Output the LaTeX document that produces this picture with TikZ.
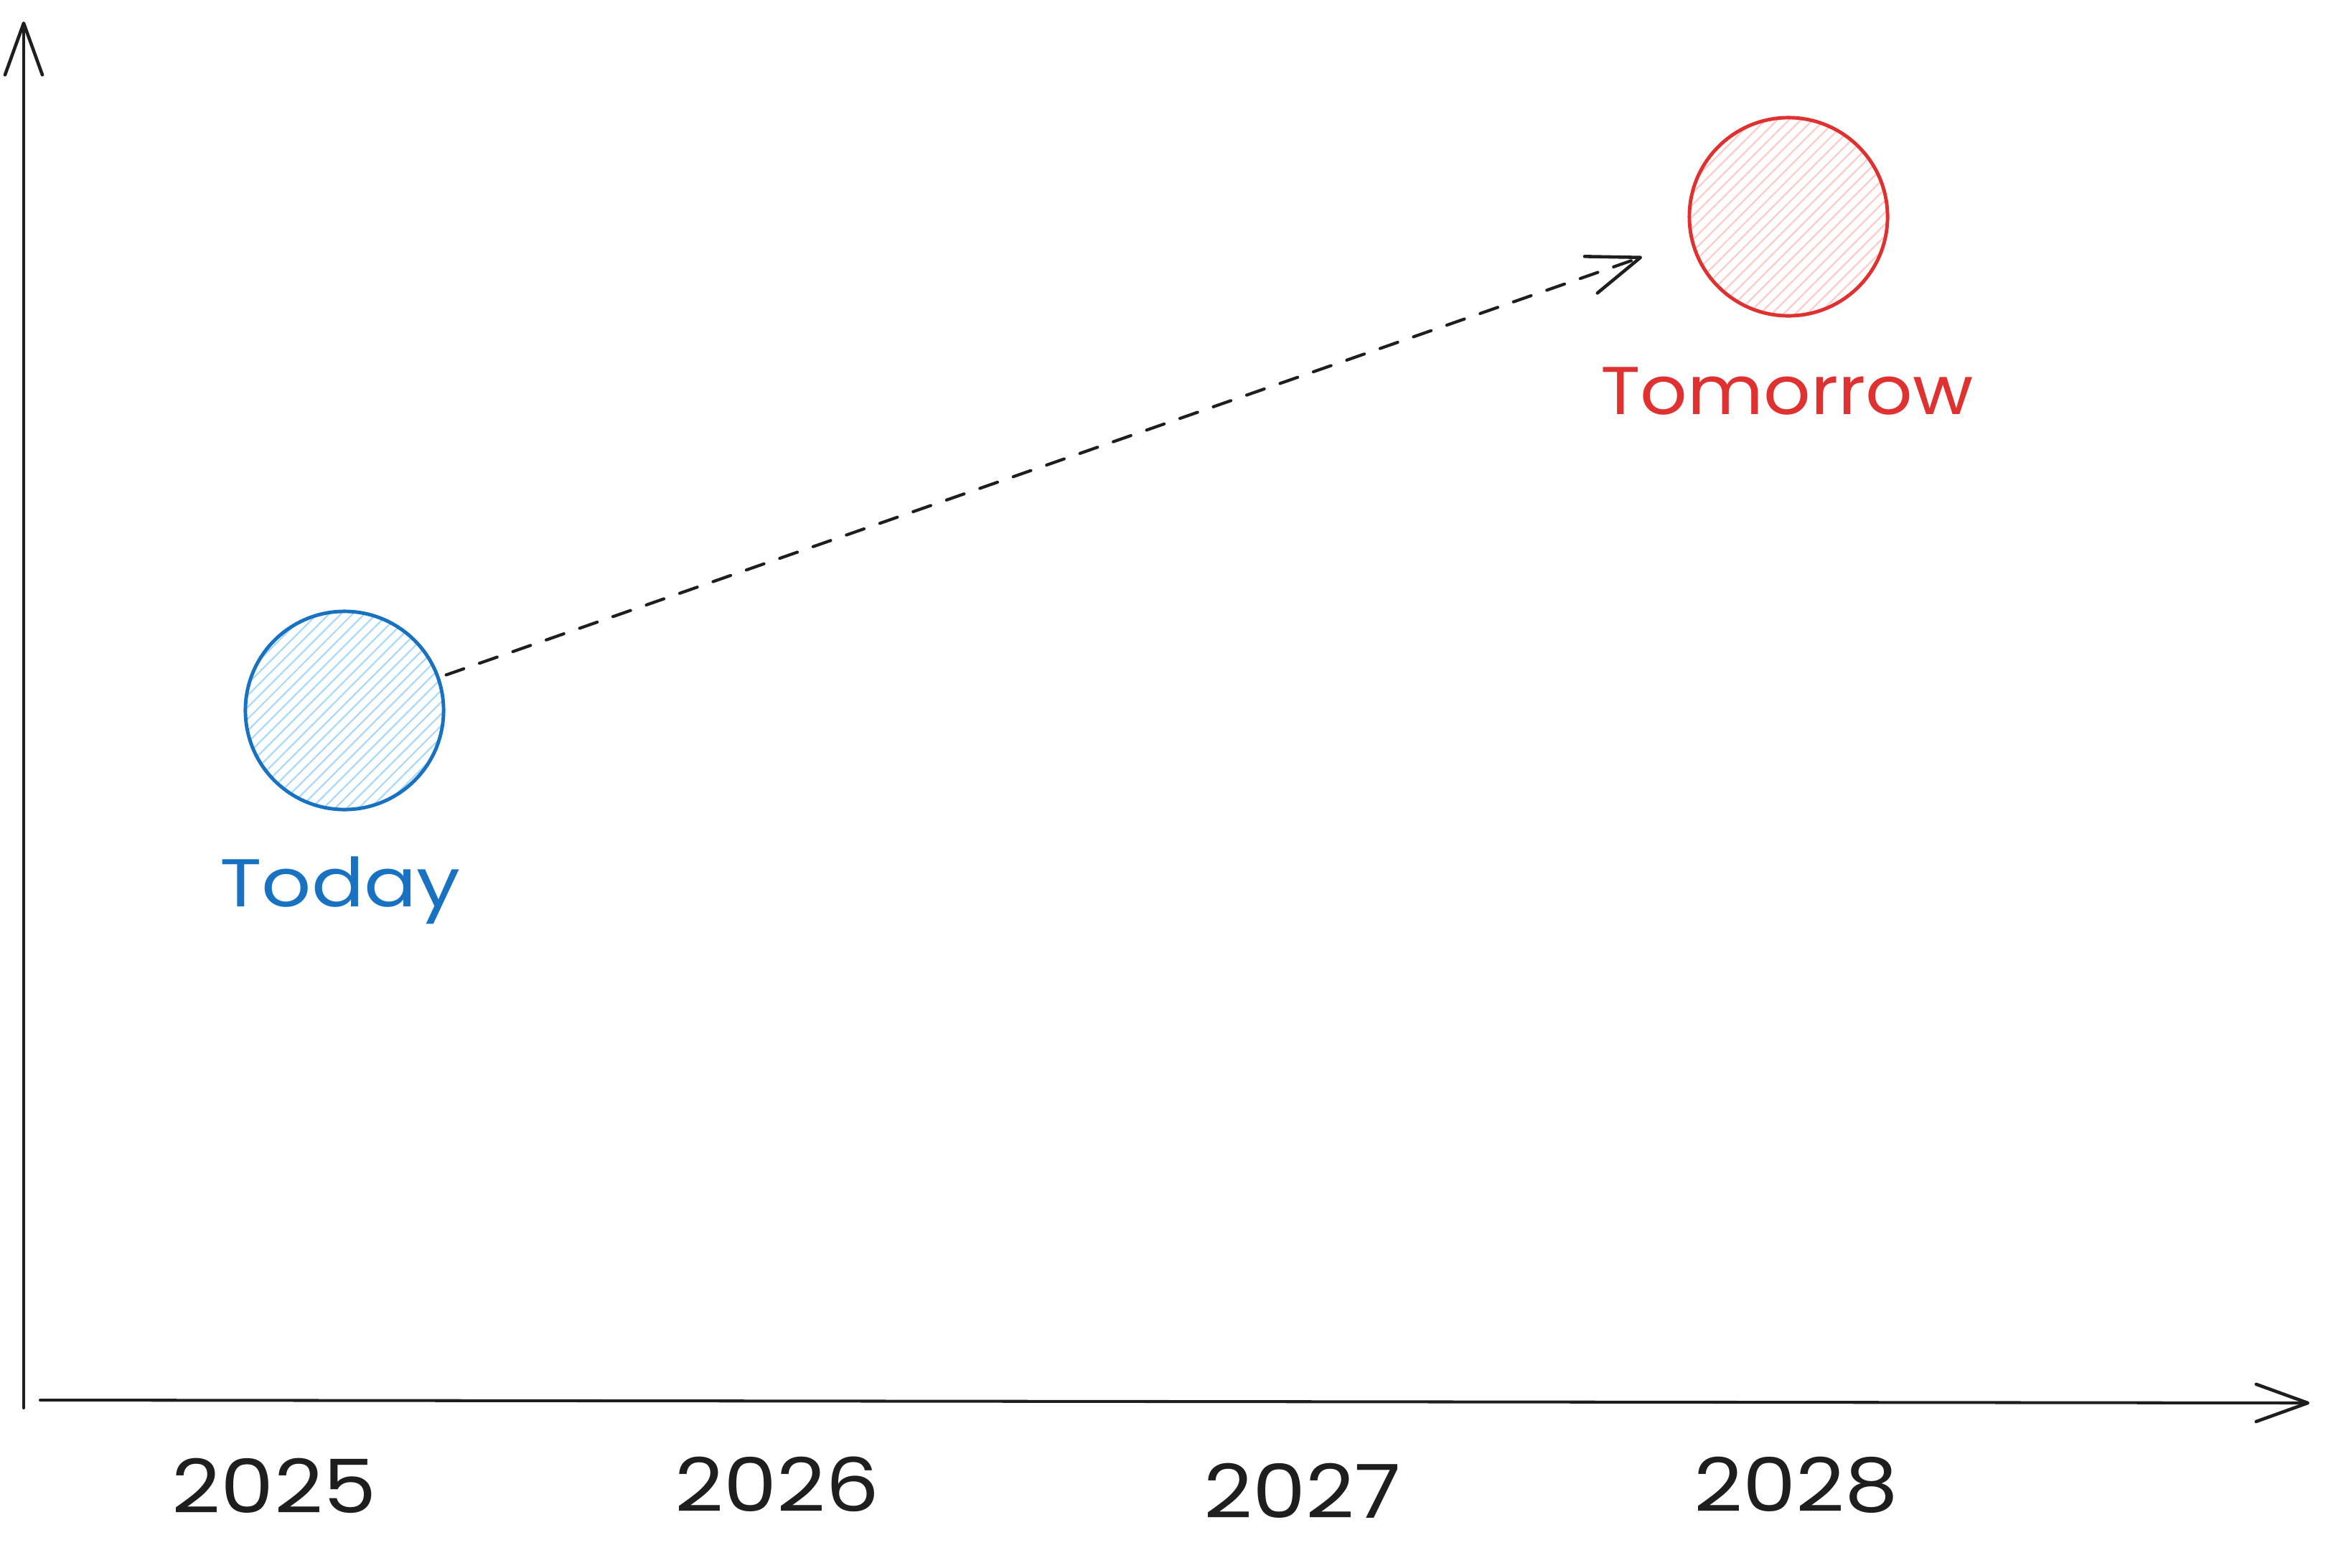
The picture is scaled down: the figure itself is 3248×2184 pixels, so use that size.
\documentclass[tikz,border=0pt]{standalone}
\usepackage{fontspec}
\setmainfont{Poppins}
\usetikzlibrary{arrows.meta,patterns.meta}
\definecolor{ink}{HTML}{1E1E1E}
\definecolor{tblue}{HTML}{1971C2}
\definecolor{lblue}{HTML}{A5D8FF}
\definecolor{tred}{HTML}{E03131}
\definecolor{lred}{HTML}{FFC9C9}
\begin{document}
\begin{tikzpicture}[x=0.01cm,y=-0.01cm,
  axis/.style={draw=ink,line width=1.15pt,line cap=round,
    -{Straight Barb[length=0.72cm,width=0.52cm,line width=1.3pt,round]}},
  dot/.style={circle,minimum size=2.76cm,inner sep=0pt,outer sep=0pt,line width=1.4pt},
  lbl/.style={anchor=base,font=\fontsize{26.8pt}{32pt}\selectfont},
  yearlbl/.style={anchor=base,text=ink,font=\fontsize{29.5pt}{36pt}\selectfont},
  future/.style={draw=ink,line width=1.2pt,line cap=round,dash pattern=on 7.4pt off 6.6pt,
    -{Straight Barb[length=0.73cm,width=0.54cm,line width=1.3pt,round]}}]
\useasboundingbox (0,0) rectangle (3248,2184);
% axes
\coordinate (ybot) at (33,1962);
\coordinate (ytop) at (33,30);
\coordinate (xstart) at (56,1951);
\coordinate (xend) at (3218,1955);
\draw[axis] (ybot) -- (ytop);
\draw[axis] (xstart) -- (xend);
% circles
\node[dot,draw=tblue,pattern={Lines[angle=45,distance=3.3pt,line width=0.6pt]},pattern color=lblue] (today) at (480,990) {};
\node[dot,draw=tred,pattern={Lines[angle=45,distance=3.3pt,line width=0.6pt]},pattern color=lred] (tomorrow) at (2492,302) {};
% labels
\node[lbl,text=tblue] (todaylbl) at (474,1263) {\scalebox{1.15}[1]{Today}};
\node[lbl,text=tred] (tomorrowlbl) at (2490,577) {\scalebox{1.09}[1]{Tomorrow}};
% years
\node[yearlbl] (y2025) at (382,2108) {\scalebox{1.14}[1]{2025}};
\node[yearlbl] (y2026) at (1083,2106) {\scalebox{1.14}[1]{2026}};
\node[yearlbl] (y2027) at (1815,2115) {\scalebox{1.14}[1]{2027}};
\node[yearlbl] (y2028) at (2503,2106) {\scalebox{1.14}[1]{2028}};
% dashed arrow
\coordinate (tip) at (2288,358);
\draw[future,shorten <=0.12cm] (today) -- (tip);
\end{tikzpicture}
\end{document}
